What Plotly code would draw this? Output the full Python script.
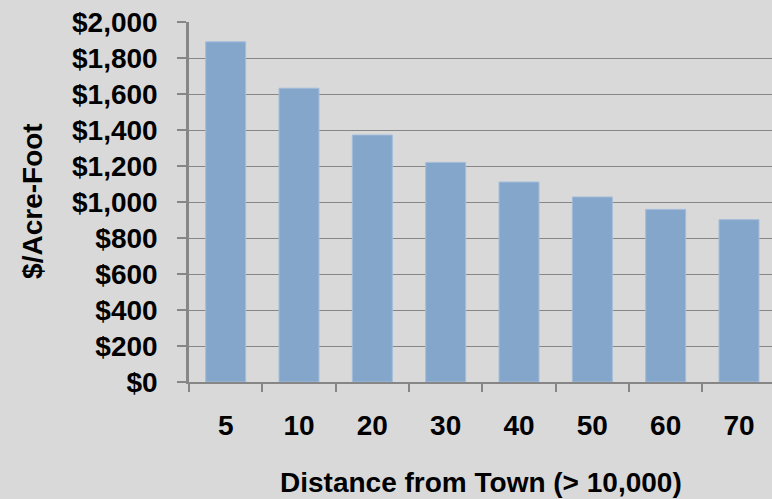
import plotly.graph_objects as go

# Distance from town (miles) and value per acre-foot
distances = ["5", "10", "20", "30", "40", "50", "60", "70"]
values = [1890, 1632, 1372, 1220, 1111, 1028, 959, 902]
y_ticks = [0, 200, 400, 600, 800, 1000, 1200, 1400, 1600, 1800, 2000]
y_tick_text = ["$0", "$200", "$400", "$600", "$800", "$1,000", "$1,200",
               "$1,400", "$1,600", "$1,800", "$2,000"]

BG = "#d9d9d9"
GRID = "#868686"
FONT = "Liberation Sans, Arial, sans-serif"
FS = 28

fig = go.Figure(
    go.Bar(
        x=distances,
        y=values,
        marker=dict(color="#85a6cb", line=dict(color="#a2bcda", width=1)),
    )
)

fig.update_layout(
    width=772,
    height=499,
    margin=dict(l=189, r=0, t=22, b=117),
    paper_bgcolor=BG,
    plot_bgcolor=BG,
    bargap=0.455,
    showlegend=False,
    font=dict(family=FONT, size=FS, color="#000000"),
)

fig.update_xaxes(
    type="category",
    range=[-0.5, 7.45],
    tickson="boundaries",
    ticks="outside",
    ticklen=8,
    tickwidth=1.5,
    tickcolor=GRID,
    showline=True,
    linecolor=GRID,
    linewidth=2,
    showgrid=False,
    ticklabelstandoff=17,
    tickfont=dict(family=FONT, size=FS, color="#000000", weight="bold"),
)

fig.update_yaxes(
    range=[0, 2000],
    tickvals=y_ticks,
    ticktext=y_tick_text,
    ticks="outside",
    ticklen=9,
    tickwidth=1.5,
    tickcolor=GRID,
    showline=True,
    linecolor=GRID,
    linewidth=2.5,
    showgrid=True,
    gridcolor=GRID,
    gridwidth=1.4,
    zeroline=False,
    ticklabelstandoff=14,
    tickfont=dict(family=FONT, size=FS, color="#000000", weight="bold"),
)

fig.add_annotation(
    text="<b>Distance from Town (> 10,000)</b>",
    xref="paper", yref="paper",
    x=0.5, y=-0.2778,
    xanchor="center", yanchor="middle",
    showarrow=False,
    font=dict(family=FONT, size=FS, color="#000000"),
)

fig.add_annotation(
    text="<b>$/Acre-Foot</b>",
    xref="paper", yref="paper",
    x=-0.2676, y=0.503,
    xanchor="center", yanchor="middle",
    textangle=-90,
    showarrow=False,
    font=dict(family=FONT, size=FS, color="#000000"),
)

fig.write_html("out.html")
